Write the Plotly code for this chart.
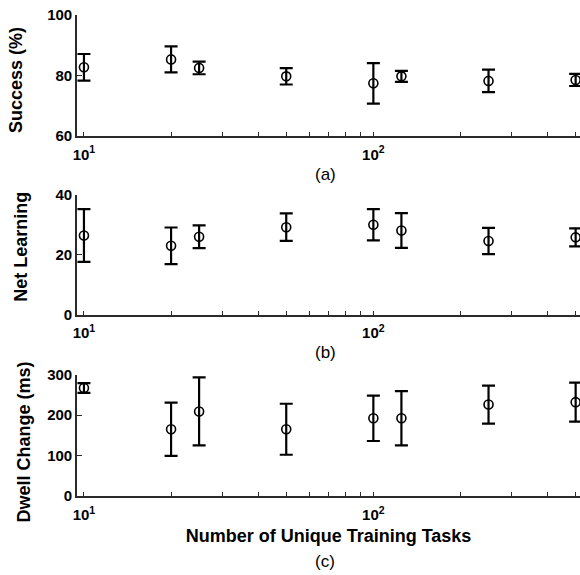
import plotly.graph_objects as go

tasks = [10, 20, 25, 50, 100, 125, 250, 500]
success = [82.7, 85.3, 82.5, 79.7, 77.4, 79.7, 78.2, 78.5]
success_err = [4.4, 4.3, 2.1, 2.7, 6.7, 1.8, 3.7, 2.0]
learning = [26.4, 23.0, 26.0, 29.2, 30.0, 28.1, 24.6, 25.8]
learning_err = [8.8, 6.1, 3.8, 4.6, 5.2, 5.8, 4.4, 3.0]
dwell = [267, 165, 209, 165, 192, 192, 226, 232]
dwell_err = [12, 66, 84, 63, 56, 67, 47, 48]

ylabels = ["Success (%)", "Net Learning", "Dwell Change (ms)"]
panel_labels = ["(a)", "(b)", "(c)"]
yranges = [[60, 100], [0, 40], [0, 300]]
ytickvals = [[60, 80, 100], [0, 20, 40], [0, 100, 200, 300]]
xtickvals = [10, 100]
xticktext = ["10<sup>1</sup>", "10<sup>2</sup>"]
minor_vals = [20, 30, 40, 50, 60, 70, 80, 90, 200, 300, 400, 500]

W, H = 580, 575
ml, mr = 77, 0
mt, mb = 15, 78.5
ph = H - mt - mb
pw = W - ml - mr
def py(p):
    return (H - mb - p) / ph
def px(p):
    return (p - ml) / pw

domains = [[py(136), 1.0], [py(315), py(195)], [0.0, py(375)]]

FONT = "Liberation Sans, Arial, sans-serif"
AX = "#2a2a2a"

fig = go.Figure()
series = [(success, success_err), (learning, learning_err), (dwell, dwell_err)]
for i, (vals, errs) in enumerate(series):
    n = "" if i == 0 else str(i + 1)
    fig.add_trace(go.Scatter(
        x=tasks, y=vals, mode="markers",
        marker=dict(symbol="circle-open", size=9, color="black", line=dict(width=1.6, color="black")),
        error_y=dict(type="data", array=errs, visible=True, color="black", thickness=2.2, width=6.5),
        xaxis="x" + n, yaxis="y" + n, showlegend=False, cliponaxis=False,
    ))
    xa = dict(
        type="log", range=[0.976, 2.714], domain=[0, 1],
        anchor="y" + n, tickvals=xtickvals, ticktext=xticktext,
        ticks="inside", ticklen=4, tickwidth=1.3, tickcolor=AX,
        ticklabelstandoff=4,
        showline=True, linecolor=AX, linewidth=1.6, showgrid=False, zeroline=False,
        tickfont=dict(family=FONT, size=15, color="black", weight="bold"),
        minor=dict(tickvals=minor_vals, ticks="inside", ticklen=4, tickwidth=1.3, tickcolor=AX, showgrid=False),
    )
    if i == 2:
        xa["title"] = dict(text="Number of Unique Training Tasks", standoff=8,
                           font=dict(family=FONT, size=18, color="black", weight="bold"))
    ya = dict(
        range=yranges[i], domain=domains[i], anchor="x" + n,
        tickvals=ytickvals[i], ticks="inside", ticklen=5, tickwidth=1.3, tickcolor=AX,
        showline=True, linecolor=AX, linewidth=1.6, showgrid=False, zeroline=False,
        tickfont=dict(family=FONT, size=15, color="black", weight="bold"),
    )
    fig.update_layout(**{"xaxis" + n: xa, "yaxis" + n: ya})

ytitle_pos = [(16, 80), (21, 247), (24, 443)]
for lab, (xp, yp) in zip(ylabels, ytitle_pos):
    fig.add_annotation(text=lab, x=px(xp), xref="paper", y=py(yp), yref="paper",
                       showarrow=False, textangle=-90,
                       font=dict(family=FONT, size=18, color="black", weight="bold"),
                       xanchor="center", yanchor="middle")

label_y = [175, 353, 562]
for lab, yp in zip(panel_labels, label_y):
    fig.add_annotation(text=lab, x=px(325), xref="paper",
                       y=py(yp), yref="paper", showarrow=False,
                       font=dict(family=FONT, size=17, color="black"),
                       xanchor="center", yanchor="middle")

fig.update_layout(
    width=W, height=H,
    margin=dict(l=ml, r=mr, t=mt, b=mb),
    paper_bgcolor="white", plot_bgcolor="white",
)

fig.write_html("out.html")
